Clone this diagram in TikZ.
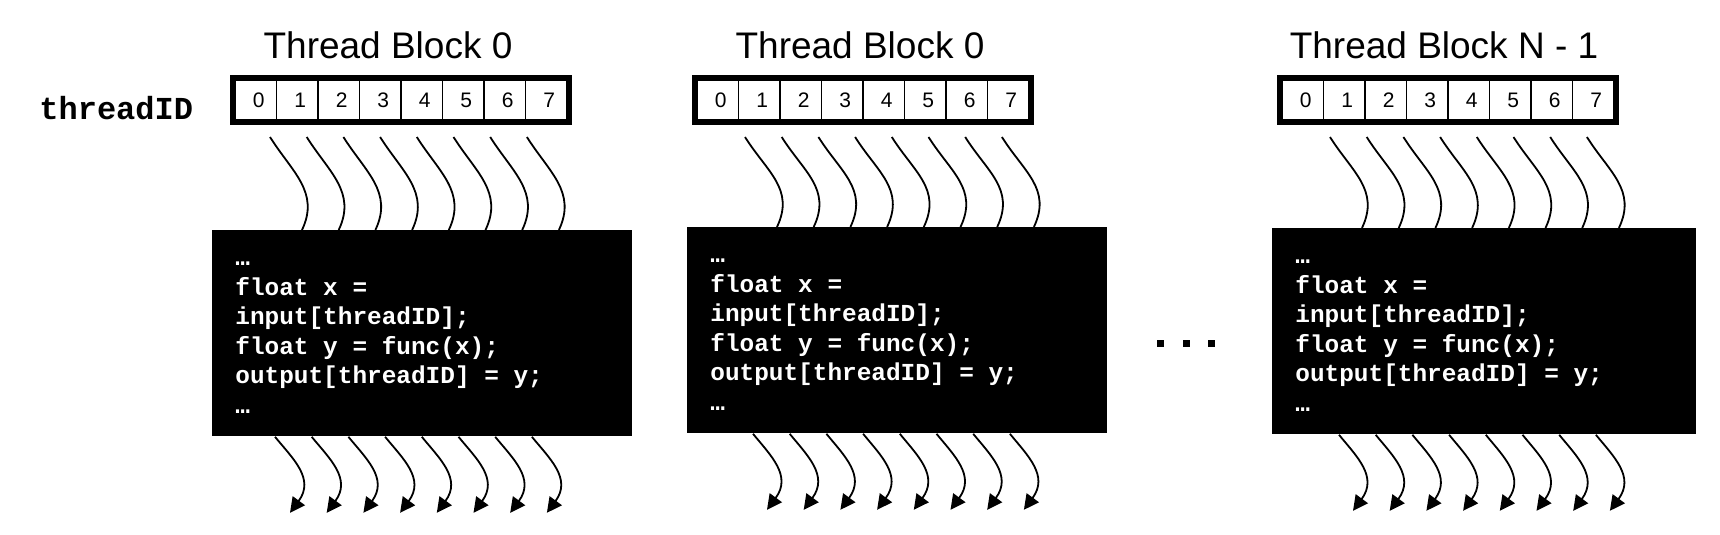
\documentclass[tikz,border=0pt]{standalone}
\usepackage{fontspec}
\setmainfont{Liberation Sans}
\setmonofont{Liberation Mono}
\usetikzlibrary{arrows.meta,chains,positioning,scopes}

\begin{document}
\begin{tikzpicture}[
            x=0.5pt, y=-0.5pt,
            node distance = 0pt,
            IdCell/.style={draw, line width=0.8pt, minimum width=20.75pt, minimum height=20pt, inner sep=0pt, outer sep=0pt,
                font=\fontsize{10.5}{12}\selectfont, execute at begin node=\hspace{3pt}, on chain},
            IdFrame/.style={draw, line width=2.5pt},
            BlockTitle/.style={anchor=base, inner sep=0pt, font=\fontsize{18.5}{22}\selectfont},
            CodeBlock/.style={fill=black, text=white, anchor=north west, inner xsep=11.5pt, inner ysep=0pt,
                text width=187pt, minimum height=103pt, align=left,
                execute at begin node={\spaceskip=0.6em\relax\strut}, execute at end node=\strut,
                font=\ttfamily\bfseries\fontsize{12.2}{14.75}\selectfont},
            Thread/.style={line width=0.9pt},
            ThreadOut/.style={line width=0.9pt, -{Triangle[length=7.5pt, width=7.5pt]}},
            DotSquare/.style={fill=black, minimum size=3.5pt, inner sep=0pt},
            ]
            \useasboundingbox (0,0) rectangle (1720,535);

            \node[anchor=base west, inner sep=0pt, font=\ttfamily\bfseries\fontsize{16}{19}\selectfont] (threadID) at (39,120) {threadID};

            % first block
            \node[BlockTitle] (title1) at (388,59) {Thread Block 0};
            { [start chain = going right]
            \node [IdCell] (A0) at (255.75,100) {0};
            \node [IdCell] (A1) {1};
            \node [IdCell] (A2) {2};
            \node [IdCell] (A3) {3};
            \node [IdCell] (A4) {4};
            \node [IdCell] (A5) {5};
            \node [IdCell] (A6) {6};
            \node [IdCell] (A7) {7};
            }
            \draw[IdFrame] ([shift={(-1.25pt,1.25pt)}]A0.north west) rectangle ([shift={(1.25pt,-1.25pt)}]A7.south east);
            \node[CodeBlock] (code1) at (212,230) {…\\float x =\\input[threadID];\\float y = func(x);\\output[threadID] = y;\\…};
            \foreach \i in {0,...,7}{
                \draw[Thread] ([xshift={7.125pt-2.4pt*\i}, yshift=-8.5pt]A\i.south)
                    .. controls +(22,35) and +(18,-38) .. ([xshift={45pt+18.35pt*\i}]code1.north west);
                \coordinate (outA\i) at ([xshift={39pt+18.35pt*\i}, yshift=-38pt]code1.south west);
                \draw[ThreadOut] ([xshift={31.5pt+18.35pt*\i}]code1.south west)
                    .. controls +(18,22) and +(25,-34) .. (outA\i);
            }

            % second block
            \node[BlockTitle] (title2) at (860,59) {Thread Block 0};
            { [start chain = going right]
            \node [IdCell] (B0) at (717.75,100) {0};
            \node [IdCell] (B1) {1};
            \node [IdCell] (B2) {2};
            \node [IdCell] (B3) {3};
            \node [IdCell] (B4) {4};
            \node [IdCell] (B5) {5};
            \node [IdCell] (B6) {6};
            \node [IdCell] (B7) {7};
            }
            \draw[IdFrame] ([shift={(-1.25pt,1.25pt)}]B0.north west) rectangle ([shift={(1.25pt,-1.25pt)}]B7.south east);
            \node[CodeBlock] (code2) at (687,227) {…\\float x =\\input[threadID];\\float y = func(x);\\output[threadID] = y;\\…};
            \foreach \i in {0,...,7}{
                \draw[Thread] ([xshift={13.625pt-2.4pt*\i}, yshift=-8.5pt]B\i.south)
                    .. controls +(22,35) and +(18,-38) .. ([xshift={45pt+18.35pt*\i}]code2.north west);
                \coordinate (outB\i) at ([xshift={40pt+18.35pt*\i}, yshift=-38pt]code2.south west);
                \draw[ThreadOut] ([xshift={33pt+18.35pt*\i}]code2.south west)
                    .. controls +(18,22) and +(25,-34) .. (outB\i);
            }

            % the dots between
            \node[DotSquare] (dot1) at (1160,343.5) {};
            \node[DotSquare] (dot2) at (1186,343.5) {};
            \node[DotSquare] (dot3) at (1211.5,343.5) {};

            % last block
            \node[BlockTitle] (title3) at (1444,59) {Thread Block N - 1};
            { [start chain = going right]
            \node [IdCell] (C0) at (1302.75,100) {0};
            \node [IdCell] (C1) {1};
            \node [IdCell] (C2) {2};
            \node [IdCell] (C3) {3};
            \node [IdCell] (C4) {4};
            \node [IdCell] (C5) {5};
            \node [IdCell] (C6) {6};
            \node [IdCell] (C7) {7};
            }
            \draw[IdFrame] ([shift={(-1.25pt,1.25pt)}]C0.north west) rectangle ([shift={(1.25pt,-1.25pt)}]C7.south east);
            \node[CodeBlock, text width=189pt] (code3) at (1272,228) {…\\float x =\\input[threadID];\\float y = func(x);\\output[threadID] = y;\\…};
            \foreach \i in {0,...,7}{
                \draw[Thread] ([xshift={13.625pt-2.4pt*\i}, yshift=-8.5pt]C\i.south)
                    .. controls +(22,35) and +(18,-38) .. ([xshift={45pt+18.35pt*\i}]code3.north west);
                \coordinate (outC\i) at ([xshift={40.5pt+18.35pt*\i}, yshift=-38pt]code3.south west);
                \draw[ThreadOut] ([xshift={33.5pt+18.35pt*\i}]code3.south west)
                    .. controls +(18,22) and +(25,-34) .. (outC\i);
            }
        \end{tikzpicture}
\end{document}
